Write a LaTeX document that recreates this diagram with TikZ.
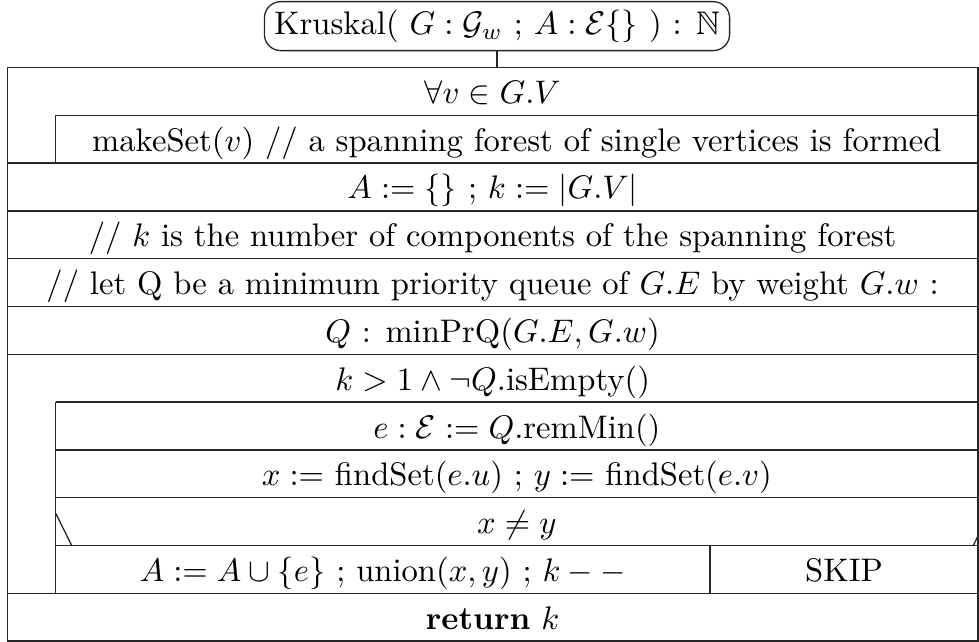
\documentclass[tikz,border=0pt]{standalone}
\usepackage{amssymb}
\begin{document}
\begin{tikzpicture}[x=0.3064pt,y=-0.3064pt,line width=0.4pt,
  frame/.style={draw=black!85},
  rowtext/.style={anchor=base,inner sep=0pt},
  headbox/.style={draw=black!85,rounded corners=5pt,inner xsep=3pt,inner ysep=2.5pt,
    text height=7.5pt,text depth=2.5pt,anchor=north}]
\useasboundingbox (0,0) rectangle (979,642);
% geometry
\def\L{7.3}\def\R{978}\def\I{55.7}\def\S{710}
\def\ra{67.5}\def\rb{115.3}\def\rc{163.1}\def\rd{210.9}\def\re{258.7}\def\rf{306.5}
\def\rg{354.3}\def\rh{402.1}\def\ri{449.9}\def\rj{497.7}\def\rk{545.5}\def\rl{593.3}\def\rm{641.1}
% header
\node[headbox] (head) at (497,1) {Kruskal( $G : \mathcal{G}_w$ ; $A : \mathcal{E}\{\}$ ) : $\mathbb{N}$};
\coordinate (top) at (head.south |- 0,\ra);
\draw[frame] (head.south) -- (top);
% frame and lines
\draw[frame] (\L,\ra) rectangle (\R,\rm);
\draw[frame] (\I,\rb) -- (\R,\rb);
\draw[frame] (\I,\rb) -- (\I,\rc);
\foreach \y in {\rc,\rd,\re,\rf,\rg,\rl}{\draw[frame] (\L,\y) -- (\R,\y);}
\foreach \y in {\rh,\ri,\rj,\rk}{\draw[frame] (\I,\y) -- (\R,\y);}
\draw[frame] (\I,\rh) -- (\I,\rl);
\draw[frame] (\S,\rk) -- (\S,\rl);
% if diagonals
\draw[frame] (\I,513.3) -- (71.7,\rk);
\draw[frame] (973.3,\rk) -- (\R,535.8);
% texts
\node[rowtext] (t1) at (492.6,103.4) {$\forall v \in G.V$};
\node[rowtext] (t2) at (516.9,151.2) {makeSet$(v)$ // a spanning forest of single vertices is formed};
\node[rowtext] (t3) at (492.6,199.0) {$A := \{\}$ ; $k := |G.V|$};
\node[rowtext] (t4) at (492.6,246.8) {// $k$ is the number of components of the spanning forest};
\node[rowtext] (t5) at (492.6,294.6) {// let Q be a minimum priority queue of $G.E$ by weight $G.w$ :};
\node[rowtext] (t6) at (492.6,342.4) {$Q$ : minPrQ$(G.E, G.w)$};
\node[rowtext] (t7) at (492.6,390.2) {$k > 1 \wedge \neg Q$.isEmpty()};
\node[rowtext] (t8) at (516.9,438.0) {$e : \mathcal{E} := Q$.remMin()};
\node[rowtext] (t9) at (516.9,485.8) {$x :=$ findSet$(e.u)$ ; $y :=$ findSet$(e.v)$};
\node[rowtext] (t10) at (516.9,533.6) {$x \neq y$};
\node[rowtext] (t11) at (382.9,581.4) {$A := A \cup \{e\}$ ; union$(x, y)$ ; $k - -$};
\node[rowtext] (t12) at (844,581.4) {SKIP};
\node[rowtext] (t13) at (492.6,629.2) {\textbf{return} $k$};
\end{tikzpicture}
\end{document}
